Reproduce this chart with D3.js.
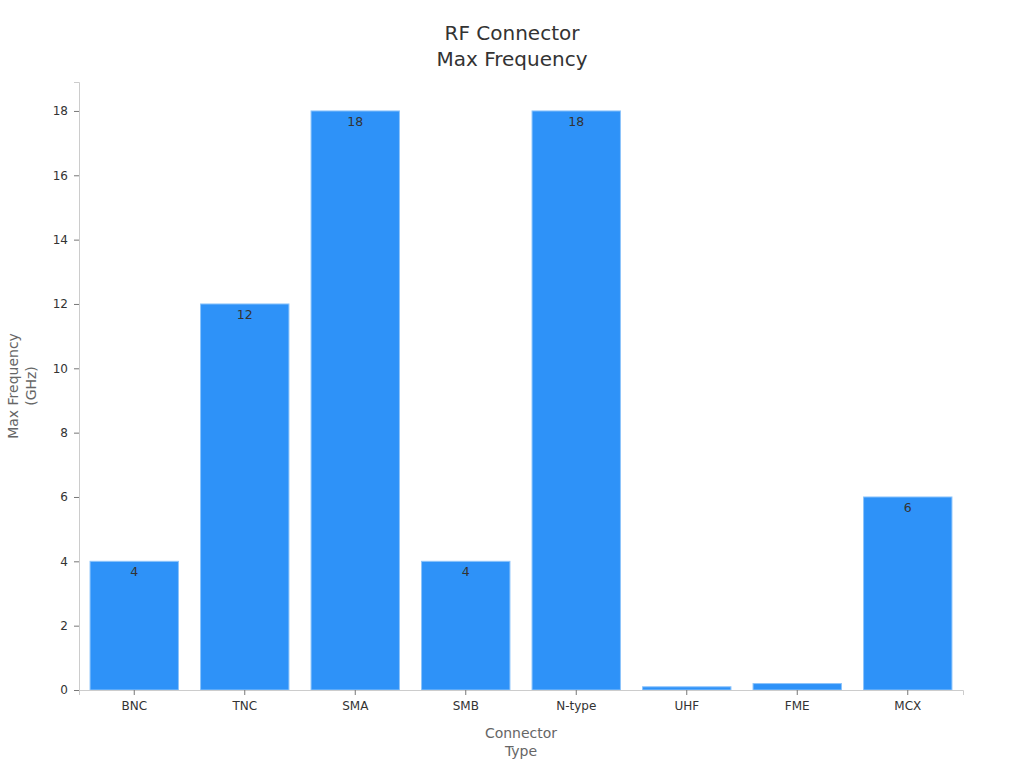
<!DOCTYPE html>
<html>
<head>
<meta charset="utf-8">
<script src="https://cdn.jsdelivr.net/npm/d3@7"></script>
<style>
    body { margin: 0; background: #fff; }
    text { font-family: "DejaVu Sans", sans-serif; }
</style>
</head>
<body>
<svg id="chart" width="1024" height="768"></svg>
<script>
const connectors = ['BNC', 'TNC', 'SMA', 'SMB', 'N-type', 'UHF', 'FME', 'MCX'];
const maxFreq = [4, 12, 18, 4, 18, 0.1, 0.2, 6];
const yTicks = [0, 2, 4, 6, 8, 10, 12, 14, 16, 18];

const svg = d3.select('#chart');
const margin = { top: 82, right: 61, bottom: 78, left: 79 };
const width = 1024 - margin.left - margin.right;
const height = 768 - margin.top - margin.bottom;

const data = connectors.map((c, i) => ({ name: c, value: maxFreq[i] }));

const x = d3.scaleBand()
    .domain(connectors)
    .range([0, width])
    .paddingInner(0.2)
    .paddingOuter(0.1);

const y = d3.scaleLinear()
    .domain([0, 18.9])
    .range([height, 0]);

const g = svg.append('g')
    .attr('transform', `translate(${margin.left},${margin.top})`);

// bars
g.selectAll('rect.bar')
    .data(data)
    .enter()
    .append('rect')
    .attr('class', 'bar')
    .attr('x', d => x(d.name))
    .attr('y', d => y(d.value))
    .attr('width', x.bandwidth())
    .attr('height', d => height - y(d.value))
    .attr('fill', '#2e92f8')
    .attr('stroke', '#8cc4fb')
    .attr('stroke-width', 1);

// value labels, only where the bar is tall enough
g.selectAll('text.value')
    .data(data.filter(d => height - y(d.value) > 16))
    .enter()
    .append('text')
    .attr('class', 'value')
    .attr('x', d => x(d.name) + x.bandwidth() / 2)
    .attr('y', d => y(d.value) + 15)
    .attr('text-anchor', 'middle')
    .style('font-size', '12.5px')
    .style('fill', '#333')
    .text(d => d.value);

// axes
const xAxis = g.append('g')
    .attr('transform', `translate(0,${height})`)
    .call(d3.axisBottom(x).tickSize(5).tickPadding(6));

const yAxis = g.append('g')
    .call(d3.axisLeft(y).tickValues(yTicks).tickSize(5).tickPadding(6));

[xAxis, yAxis].forEach(ax => {
    ax.select('.domain').attr('stroke', '#ccc');
    ax.selectAll('.tick line').attr('stroke', '#777');
    ax.selectAll('.tick text')
        .style('font-size', '12px')
        .style('font-family', '"DejaVu Sans", sans-serif')
        .style('fill', '#333');
});

// title
const title = svg.append('text')
    .attr('x', 512)
    .attr('text-anchor', 'middle')
    .style('font-size', '20px')
    .style('fill', '#333');
title.append('tspan').attr('x', 512).attr('y', 40).text('RF Connector');
title.append('tspan').attr('x', 512).attr('y', 66).text('Max Frequency');

// x axis title
const xTitle = svg.append('text')
    .attr('text-anchor', 'middle')
    .style('font-size', '14px')
    .style('fill', '#666');
xTitle.append('tspan').attr('x', margin.left + width / 2).attr('y', 738).text('Connector');
xTitle.append('tspan').attr('x', margin.left + width / 2).attr('y', 756).text('Type');

// y axis title
const yTitle = svg.append('text')
    .attr('transform', `translate(18,${margin.top + height / 2}) rotate(-90)`)
    .attr('text-anchor', 'middle')
    .style('font-size', '14px')
    .style('fill', '#666');
yTitle.append('tspan').attr('x', 0).attr('y', 0).text('Max Frequency');
yTitle.append('tspan').attr('x', 0).attr('y', 18).text('(GHz)');
</script>
</body>
</html>
